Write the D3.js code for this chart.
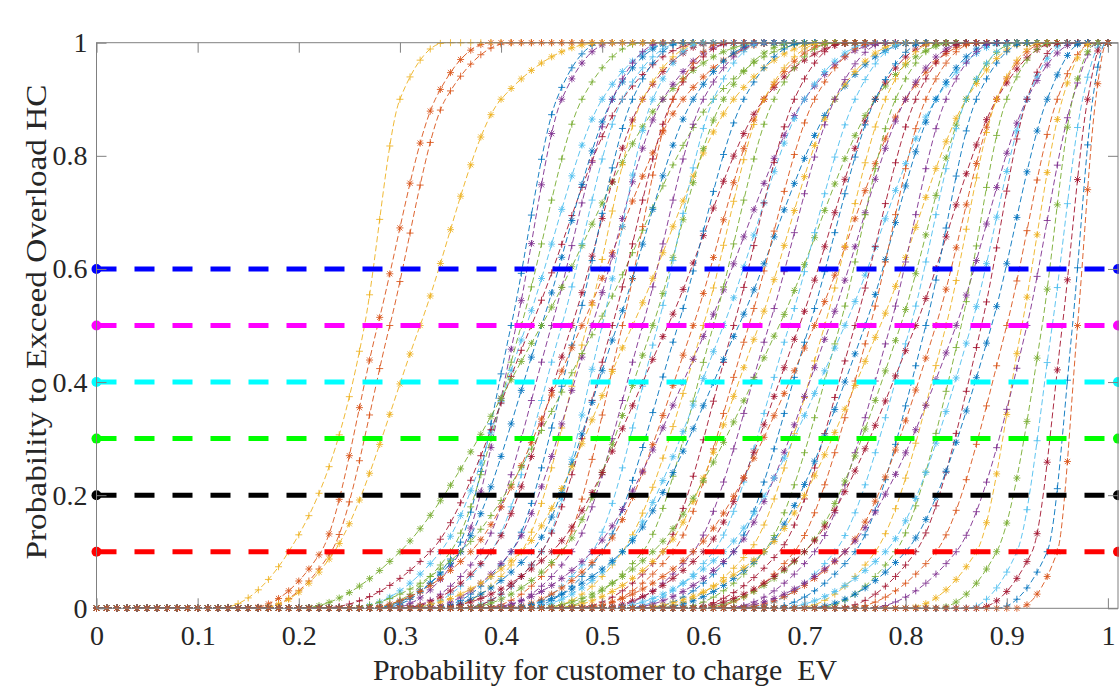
<!DOCTYPE html>
<html>
<head>
<meta charset="utf-8">
<script src="https://cdn.jsdelivr.net/npm/d3@7"></script>
<style>
  html, body { margin: 0; padding: 0; background: #fff; }
  svg { display: block; }
</style>
</head>
<body>
<div id="chart"></div>
<script>
// exceedance curves, one row per customer group, x read where each curve
// leaves 0, crosses 0.1 / 0.5 / 0.9 and reaches 1
const curveStart = [0.28, 0.15, 0.12, 0.29, 0.27, 0.25, 0.22, 0.27, 0.16, 0.16,
  0.30, 0.20, 0.31, 0.30, 0.33, 0.26, 0.34, 0.32, 0.24, 0.36,
  0.36, 0.33, 0.38, 0.30, 0.39, 0.36, 0.41, 0.33, 0.42, 0.40,
  0.44, 0.38, 0.45, 0.42, 0.47, 0.40, 0.48, 0.45, 0.50, 0.43,
  0.52, 0.49, 0.54, 0.47, 0.55, 0.52, 0.57, 0.50, 0.58, 0.55,
  0.60, 0.53, 0.62, 0.59, 0.64, 0.58, 0.66, 0.63, 0.69, 0.62,
  0.71, 0.67, 0.73, 0.70, 0.74, 0.80, 0.76, 0.83, 0.86, 0.87,
  0.89, 0.91];
const cross10 = [0.355, 0.222, 0.19, 0.36, 0.35, 0.34, 0.33, 0.36, 0.232, 0.235,
  0.38, 0.30, 0.39, 0.39, 0.41, 0.37, 0.42, 0.41, 0.36, 0.44,
  0.44, 0.43, 0.46, 0.42, 0.47, 0.46, 0.49, 0.45, 0.50, 0.50,
  0.52, 0.49, 0.54, 0.52, 0.56, 0.52, 0.57, 0.56, 0.59, 0.55,
  0.61, 0.60, 0.63, 0.59, 0.645, 0.63, 0.66, 0.62, 0.675, 0.66,
  0.69, 0.66, 0.71, 0.70, 0.73, 0.70, 0.75, 0.74, 0.77, 0.74,
  0.79, 0.78, 0.81, 0.80, 0.83, 0.87, 0.85, 0.89, 0.91, 0.925,
  0.94, 0.95];
const cross50 = [0.41, 0.278, 0.265, 0.415, 0.42, 0.425, 0.43, 0.44, 0.29, 0.32,
  0.45, 0.44, 0.46, 0.47, 0.475, 0.48, 0.485, 0.49, 0.495, 0.50,
  0.51, 0.515, 0.52, 0.53, 0.54, 0.55, 0.555, 0.565, 0.575, 0.59,
  0.60, 0.605, 0.61, 0.62, 0.63, 0.635, 0.645, 0.655, 0.665, 0.675,
  0.685, 0.695, 0.705, 0.71, 0.72, 0.725, 0.735, 0.74, 0.75, 0.76,
  0.765, 0.775, 0.785, 0.795, 0.805, 0.81, 0.82, 0.83, 0.84, 0.85,
  0.855, 0.865, 0.875, 0.885, 0.90, 0.915, 0.92, 0.935, 0.945, 0.955,
  0.965, 0.97];
const cross90 = [0.455, 0.335, 0.30, 0.46, 0.48, 0.50, 0.52, 0.51, 0.345, 0.40,
  0.51, 0.56, 0.52, 0.54, 0.53, 0.58, 0.54, 0.56, 0.61, 0.55,
  0.57, 0.59, 0.57, 0.63, 0.60, 0.62, 0.61, 0.66, 0.64, 0.66,
  0.66, 0.70, 0.67, 0.70, 0.69, 0.73, 0.71, 0.73, 0.73, 0.77,
  0.75, 0.77, 0.77, 0.80, 0.78, 0.80, 0.79, 0.83, 0.81, 0.83,
  0.82, 0.86, 0.84, 0.86, 0.86, 0.89, 0.87, 0.89, 0.89, 0.92,
  0.90, 0.92, 0.92, 0.94, 0.95, 0.955, 0.965, 0.965, 0.975, 0.98,
  0.985, 0.988];
const curveEnd = [0.50, 0.39, 0.345, 0.51, 0.54, 0.57, 0.60, 0.57, 0.41, 0.50,
  0.56, 0.66, 0.58, 0.61, 0.58, 0.67, 0.60, 0.63, 0.71, 0.60,
  0.63, 0.66, 0.62, 0.72, 0.66, 0.69, 0.66, 0.75, 0.70, 0.73,
  0.72, 0.78, 0.73, 0.77, 0.74, 0.81, 0.77, 0.80, 0.78, 0.85,
  0.80, 0.83, 0.82, 0.87, 0.83, 0.86, 0.84, 0.90, 0.86, 0.89,
  0.87, 0.92, 0.89, 0.91, 0.91, 0.95, 0.92, 0.94, 0.935, 0.97,
  0.945, 0.96, 0.955, 0.975, 0.985, 0.985, 0.99, 0.99, 0.995, 0.995,
  0.998, 0.999];

// horizontal risk levels
const thresholdLevels = [0.6, 0.5, 0.4, 0.3, 0.2, 0.1];
const thresholdColors = ['#0000ff', '#ff00ff', '#00ffff', '#00ff00', '#000000', '#ff0000'];

// tick labels
const xTicks = [0, 0.1, 0.2, 0.3, 0.4, 0.5, 0.6, 0.7, 0.8, 0.9, 1];
const yTicks = [0, 0.2, 0.4, 0.6, 0.8, 1];

// matlab default colour order
const lineColors = ['#0072BD', '#D95319', '#EDB120', '#7E2F8E', '#77AC30', '#4DBEEE', '#A2142F'];

const width = 1119;
const height = 688;
const axisColor = '#808080';
const textColor = '#262626';
const font = '"Liberation Serif", "Times New Roman", serif';

const svg = d3.select('#chart')
  .append('svg')
  .attr('width', width)
  .attr('height', height);

const x = d3.scaleLinear().domain([0, 1.01]).range([96.5, 1118]);
const y = d3.scaleLinear().domain([0, 1]).range([608.3, 42.7]);

// curves
const line = d3.line()
  .x(d => x(d[0]))
  .y(d => y(d[1]))
  .curve(d3.curveMonotoneX);

const markerPlus = 'M-3.5,0H3.5M0,-3.5V3.5';
const markerStar = 'M-3.5,0H3.5M0,-3.5V3.5M-2.6,-2.6L2.6,2.6M-2.6,2.6L2.6,-2.6';
const markerSteps = d3.range(0, 1.0001, 0.01);

const gCurves = svg.append('g');

curveStart.forEach((s, i) => {
  const color = lineColors[i % lineColors.length];
  const pts = [[0, 0], [s, 0], [cross10[i], 0.1], [cross50[i], 0.5],
    [cross90[i], 0.9], [curveEnd[i], 1], [1, 1]];

  const g = gCurves.append('g');
  const path = g.append('path')
    .attr('d', line(pts))
    .attr('fill', 'none')
    .attr('stroke', color)
    .attr('stroke-width', 1)
    .attr('stroke-dasharray', '6,3')
    .attr('opacity', 0.9);

  // sample the drawn path so markers sit on it every 0.01 in x
  const node = path.node();
  const total = node.getTotalLength();
  const samples = [];
  for (let l = 0; l <= total; l += 1.5) samples.push(node.getPointAtLength(l));
  samples.push(node.getPointAtLength(total));

  let j = 0;
  const marks = markerSteps.map((mx) => {
    const px = x(mx);
    while (j < samples.length - 2 && samples[j + 1].x < px) j++;
    const a = samples[j];
    const b = samples[j + 1];
    const t = b.x === a.x ? 0 : Math.max(0, Math.min(1, (px - a.x) / (b.x - a.x)));
    return [px, a.y + t * (b.y - a.y)];
  });

  g.selectAll('path.mk')
    .data(marks)
    .enter()
    .append('path')
    .attr('class', 'mk')
    .attr('d', i % 2 === 0 ? markerPlus : markerStar)
    .attr('transform', d => `translate(${d[0]},${d[1]})`)
    .attr('fill', 'none')
    .attr('stroke', color)
    .attr('stroke-width', 1)
    .attr('opacity', 0.85);
});

// threshold lines
thresholdLevels.forEach((lv, i) => {
  svg.append('line')
    .attr('x1', x(0))
    .attr('x2', x(1.01))
    .attr('y1', y(lv))
    .attr('y2', y(lv))
    .attr('stroke', thresholdColors[i])
    .attr('stroke-width', 5)
    .attr('stroke-dasharray', '20,18');

  [0, 1.01].forEach((v) => {
    svg.append('circle')
      .attr('cx', x(v))
      .attr('cy', y(lv))
      .attr('r', 5)
      .attr('fill', thresholdColors[i]);
  });
});

// axes
const xAxis = svg.append('g')
  .attr('transform', `translate(0, ${y(0)})`)
  .call(d3.axisBottom(x).tickValues(xTicks).tickFormat(d3.format('')).tickSizeInner(-10).tickSizeOuter(0).tickPadding(17));

const xAxisTop = svg.append('g')
  .attr('transform', `translate(0, ${y(1)})`)
  .call(d3.axisTop(x).tickValues(xTicks).tickFormat('').tickSizeInner(-10).tickSizeOuter(0));

const yAxis = svg.append('g')
  .attr('transform', `translate(${x(0)}, 0)`)
  .call(d3.axisLeft(y).tickValues(yTicks).tickFormat(d3.format('')).tickSizeInner(-10).tickSizeOuter(0).tickPadding(9));

const yAxisRight = svg.append('g')
  .attr('transform', `translate(${x(1.01)}, 0)`)
  .call(d3.axisRight(y).tickValues(yTicks).tickFormat('').tickSizeInner(-10).tickSizeOuter(0));

[xAxis, xAxisTop, yAxis, yAxisRight].forEach((a) => {
  a.select('.domain').remove();
  a.selectAll('.tick line').attr('stroke', axisColor);
  a.selectAll('.tick text')
    .attr('fill', textColor)
    .style('font-family', font)
    .style('font-size', '28px');
});

// plot box
svg.append('rect')
  .attr('x', x(0))
  .attr('y', y(1))
  .attr('width', x(1.01) - x(0))
  .attr('height', y(0) - y(1))
  .attr('fill', 'none')
  .attr('stroke', axisColor)
  .attr('stroke-width', 1);

// axis titles
svg.append('text')
  .text('Probability for customer to charge\u00a0\u00a0EV')
  .attr('x', 605)
  .attr('y', 680)
  .attr('text-anchor', 'middle')
  .attr('textLength', 464)
  .attr('lengthAdjust', 'spacingAndGlyphs')
  .attr('fill', textColor)
  .style('font-family', font)
  .style('font-size', '29px');

svg.append('text')
  .text('Probability to Exceed Overload HC')
  .attr('transform', 'translate(46, 322) rotate(-90)')
  .attr('text-anchor', 'middle')
  .attr('textLength', 475)
  .attr('lengthAdjust', 'spacingAndGlyphs')
  .attr('fill', textColor)
  .style('font-family', font)
  .style('font-size', '29px');
</script>
</body>
</html>
